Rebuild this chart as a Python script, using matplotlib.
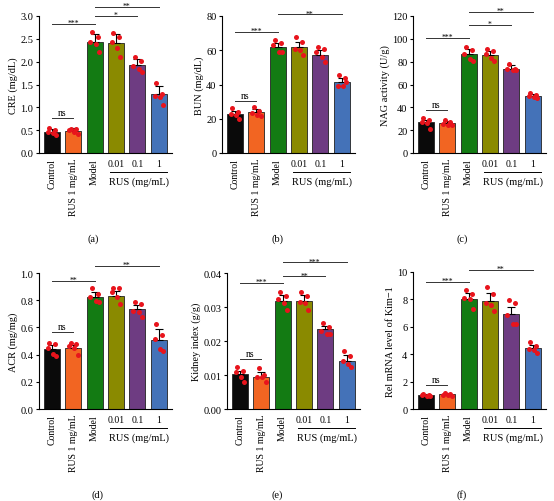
import matplotlib
matplotlib.use('Agg')
import matplotlib.pyplot as plt
import numpy as np

plt.rcParams['font.family'] = ['Liberation Serif', 'DejaVu Serif']
plt.rcParams['axes.linewidth'] = 0.8

groups = ['Control', 'RUS 1 mg/mL', 'Model', '0.01', '0.1', '1']
bar_colors = ['#0a0a0a', '#f26522', '#137b13', '#8a8a00', '#6e3c82', '#4472b8']

# (a) CRE
cre_mean = [0.47, 0.49, 2.43, 2.40, 1.93, 1.29]
cre_err = [0.05, 0.05, 0.17, 0.20, 0.12, 0.17]
cre_pts = [[0.54, 0.50, 0.47, 0.44, 0.39], [0.53, 0.52, 0.50, 0.45, 0.42],
           [2.66, 2.53, 2.42, 2.38, 2.21], [2.62, 2.53, 2.44, 2.29, 2.10],
           [2.11, 2.02, 1.91, 1.84, 1.78], [1.53, 1.30, 1.25, 1.22, 1.05]]

# (b) BUN
bun_mean = [22.7, 23.7, 62.0, 62.0, 57.5, 41.7]
bun_err = [2.0, 1.9, 2.4, 3.0, 2.4, 1.9]
bun_pts = [[26.0, 23.7, 23.0, 22.0, 19.8], [27.0, 24.6, 23.5, 22.1, 21.7],
           [65.7, 64.2, 62.8, 58.9, 58.9], [67.7, 64.8, 60.5, 59.9, 57.3],
           [61.8, 60.9, 58.9, 56.0, 53.0], [45.8, 43.6, 38.9, 38.9, 41.3]]

# (c) NAG
nag_mean = [26.9, 26.3, 86.9, 86.0, 73.2, 50.3]
nag_err = [2.4, 1.5, 3.8, 3.3, 3.5, 1.5]
nag_pts = [[30.4, 29.0, 27.0, 26.3, 21.0], [29.0, 27.0, 25.5, 24.6, 24.6],
           [92.8, 90.4, 86.9, 82.5, 81.0], [91.3, 89.0, 86.9, 83.1, 81.0],
           [78.0, 73.8, 73.2, 72.9, 72.3], [52.4, 50.9, 49.8, 48.9, 48.3]]

# (d) ACR
acr_mean = [0.44, 0.45, 0.822, 0.831, 0.733, 0.509]
acr_err = [0.027, 0.024, 0.041, 0.039, 0.032, 0.08]
acr_pts = [[0.487, 0.48, 0.447, 0.403, 0.389], [0.484, 0.48, 0.462, 0.447, 0.394],
           [0.888, 0.846, 0.826, 0.797, 0.785], [0.888, 0.888, 0.858, 0.826, 0.773],
           [0.79, 0.773, 0.724, 0.711, 0.675], [0.623, 0.545, 0.516, 0.443, 0.425]]

# (e) Kidney index
ki_mean = [0.0102, 0.0095, 0.0319, 0.0319, 0.0235, 0.0142]
ki_err = [0.0011, 0.0015, 0.0016, 0.0016, 0.0010, 0.0017]
ki_pts = [[0.0123, 0.0113, 0.0110, 0.0095, 0.0080], [0.0120, 0.0100, 0.0093, 0.0093, 0.0080],
          [0.0343, 0.0333, 0.0324, 0.0312, 0.0291], [0.0343, 0.0333, 0.0316, 0.0311, 0.0291],
          [0.0252, 0.0242, 0.0228, 0.0221, 0.0221], [0.0172, 0.0157, 0.0142, 0.0132, 0.0123]]

# (f) Kim-1 mRNA
kim_mean = [1.05, 1.07, 8.05, 7.86, 6.93, 4.45]
kim_err = [0.07, 0.12, 0.45, 0.61, 0.52, 0.20]
kim_pts = [[1.10, 1.05, 1.00, 0.95, 0.95], [1.15, 1.10, 1.05, 1.00, 0.95],
           [8.66, 8.37, 8.10, 8.00, 7.32], [8.90, 8.42, 7.74, 7.57, 7.15],
           [7.93, 7.76, 6.84, 6.23, 6.23], [4.89, 4.60, 4.40, 4.28, 4.11]]

W, H = 554, 502
fig = plt.figure(figsize=(W / 100, H / 100), dpi=100)

panels = [
    dict(mean=cre_mean, err=cre_err, pts=cre_pts, ylabel='CRE (mg/dL)',
         yticks=np.arange(0, 3.01, 0.5), fmt='{:.1f}', box=(39, 17, 154), tag='(a)', tagpos=(93, 239),
         sig=[(0, 1, 0.76, 'ns'), (0, 2, 2.83, '***'), (2, 4, 3.0, '*'), (2, 5, 3.2, '**')]),
    dict(mean=bun_mean, err=bun_err, pts=bun_pts, ylabel='BUN (mg/dL)',
         yticks=np.arange(0, 81, 20), fmt='{:.0f}', box=(222, 17, 154), tag='(b)', tagpos=(277, 239),
         sig=[(0, 1, 30.5, 'ns'), (0, 2, 70.6, '***'), (2, 5, 81.0, '**')]),
    dict(mean=nag_mean, err=nag_err, pts=nag_pts, ylabel='NAG activity (U/g)',
         yticks=np.arange(0, 121, 20), fmt='{:.0f}', box=(413, 17, 154), tag='(c)', tagpos=(462, 239),
         sig=[(0, 1, 37.8, 'ns'), (0, 2, 100.7, '***'), (2, 4, 112.4, '*'), (2, 5, 123.5, '**')]),
    dict(mean=acr_mean, err=acr_err, pts=acr_pts, ylabel='ACR (mg/mg)',
         yticks=np.arange(0, 1.01, 0.2), fmt='{:.1f}', box=(39, 274, 410), tag='(d)', tagpos=(97, 495),
         sig=[(0, 1, 0.565, 'ns'), (0, 2, 0.941, '**'), (2, 5, 1.054, '**')]),
    dict(mean=ki_mean, err=ki_err, pts=ki_pts, ylabel='Kidney index (g/g)',
         yticks=np.arange(0, 0.041, 0.01), fmt='{:.2f}', box=(227, 274, 410), tag='(e)', tagpos=(277, 495),
         sig=[(0, 1, 0.0147, 'ns'), (0, 2, 0.037, '***'), (2, 4, 0.039, '**'), (2, 5, 0.0431, '***')]),
    dict(mean=kim_mean, err=kim_err, pts=kim_pts, ylabel='Rel mRNA level of Kim\u22121',
         yticks=np.arange(0, 10.1, 2), fmt='{:.0f}', box=(413, 273, 410), tag='(f)', tagpos=(462, 495),
         sig=[(0, 1, 1.78, 'ns'), (0, 2, 9.27, '***'), (2, 5, 10.17, '**')]),
]

spacing = 21.4
xmin, xmax = -0.6, 5.6
jitter = np.array([-0.12, 0.15, -0.2, 0.05, 0.2])
x = np.arange(len(groups))

for p in panels:
    left, top, bottom = p['box']
    width = (xmax - xmin) * spacing
    ax = fig.add_axes([left / W, 1 - bottom / H, width / W, (bottom - top) / H])
    ax.bar(x, p['mean'], width=0.75, color=bar_colors, edgecolor='#222222', linewidth=0.6, zorder=2)
    ax.errorbar(x, p['mean'], yerr=[np.zeros(6), p['err']], fmt='none', ecolor='black',
                elinewidth=0.8, capsize=3.2, capthick=0.8, zorder=3)
    for i, vals in enumerate(p['pts']):
        ax.plot(x[i] + jitter[:len(vals)], vals, 'o', color='#e8141c', markersize=3.6,
                markeredgewidth=0, zorder=4, clip_on=False)

    ymax = p['yticks'][-1]
    ax.set_xlim(xmin, xmax)
    ax.set_ylim(0, ymax)
    ax.set_yticks(p['yticks'])
    ax.set_yticklabels([p['fmt'].format(v) for v in p['yticks']], fontsize=7.5)
    ax.set_ylabel(p['ylabel'], fontsize=7.4, labelpad=1.5)
    ax.tick_params(axis='y', length=2.5, width=0.8, pad=1.5)
    ax.tick_params(axis='x', length=0, pad=3.5)
    ax.spines['top'].set_visible(False)
    ax.spines['right'].set_visible(False)

    ax.set_xticks(x)
    ax.set_xticklabels(groups, fontsize=7)
    for i, lab in enumerate(ax.get_xticklabels()):
        if i < 3:
            lab.set_rotation(90)
            lab.set_va('top')
        else:
            lab.set_rotation(0)
    for i, tk in enumerate(ax.xaxis.get_major_ticks()):
        if i >= 3:
            tk.set_pad(4.5)

    # bracket for RUS doses
    h_ax = bottom - top
    tr = ax.get_xaxis_transform()
    ax.plot([2.7, 5.4], [-19 / h_ax] * 2, color='black', lw=0.7, transform=tr, clip_on=False)
    ax.text(4.05, -28 / h_ax, 'RUS (mg/mL)', transform=tr, ha='center', va='center', fontsize=7.5)

    # significance lines
    for a, b, y, s in p['sig']:
        ax.plot([a, b], [y, y], color='#333333', lw=0.7, clip_on=False)
        if s == 'ns':
            ax.annotate(s, ((a + b) / 2, y), xytext=(0, 0.8), textcoords='offset points',
                        ha='center', va='bottom', fontsize=7, annotation_clip=False)
        else:
            ax.annotate(s, ((a + b) / 2, y), xytext=(0, -0.8), textcoords='offset points',
                        ha='center', va='baseline', fontsize=5.5, annotation_clip=False)

    fig.text(p['tagpos'][0] / W, 1 - p['tagpos'][1] / H, p['tag'], ha='center', va='center', fontsize=7.5)

fig.savefig('out.png', dpi=100)
